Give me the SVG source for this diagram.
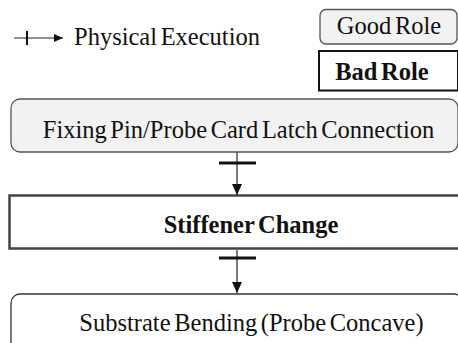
<svg xmlns="http://www.w3.org/2000/svg" width="458" height="343" viewBox="0 0 458 343">
<defs>
<style>
text{font-family:"Liberation Serif","Times New Roman",serif;font-size:24.5px;fill:#111;word-spacing:-2.5px}
.b{font-weight:bold}
.good{fill:#f2f2f2;stroke:#555;stroke-width:1.3}
.line{stroke:#222;stroke-width:1.2;fill:none}
.tick{stroke:#111;stroke-width:3}
</style>
<marker id="ah" markerWidth="12" markerHeight="12" refX="11" refY="5.5" orient="auto" markerUnits="userSpaceOnUse">
<path d="M0,0.5 L11,5.5 L0,10.5 Z" fill="#111"/>
</marker>
<marker id="ahs" markerWidth="10" markerHeight="10" refX="9" refY="4" orient="auto" markerUnits="userSpaceOnUse">
<path d="M0,0 L9,4 L0,8 Z" fill="#111"/>
</marker>
</defs>
<rect width="458" height="343" fill="#fff"/>
<g id="legend">
<line x1="14" y1="38" x2="63" y2="38" class="line" marker-end="url(#ahs)"/>
<line x1="27" y1="31" x2="27" y2="45" stroke="#111" stroke-width="2"/>
<text x="74" y="45">Physical Execution</text>
</g>
<g id="good-role">
<rect x="320" y="9.5" width="137" height="34.5" rx="6" class="good"/>
<text x="389" y="34" text-anchor="middle">Good Role</text>
</g>
<g id="bad-role">
<rect x="319" y="51" width="139" height="39.5" fill="#fff" stroke="#111" stroke-width="2"/>
<text x="382" y="80" text-anchor="middle" class="b">Bad Role</text>
</g>
<g id="fixing">
<rect x="11" y="99" width="447" height="53" rx="9" class="good"/>
<text x="238.5" y="138" text-anchor="middle">Fixing Pin/Probe Card Latch Connection</text>
</g>
<g id="stiffener">
<rect x="9.5" y="195.5" width="452" height="53" fill="#fff" stroke="#444" stroke-width="2.5"/>
<text x="251" y="233" text-anchor="middle" class="b">Stiffener Change</text>
</g>
<g id="substrate">
<rect x="11" y="294" width="452" height="70" rx="9" fill="#fff" stroke="#333" stroke-width="1.3"/>
<text x="251.5" y="331" text-anchor="middle">Substrate Bending (Probe Concave)</text>
</g>
<g id="connectors">
<line x1="237" y1="152.5" x2="237" y2="195" class="line" marker-end="url(#ah)"/>
<line x1="219" y1="163" x2="256" y2="163" class="tick"/>
<line x1="237" y1="250" x2="237" y2="293" class="line" marker-end="url(#ah)"/>
<line x1="219" y1="258" x2="256" y2="258" class="tick"/>
</g>
</svg>
